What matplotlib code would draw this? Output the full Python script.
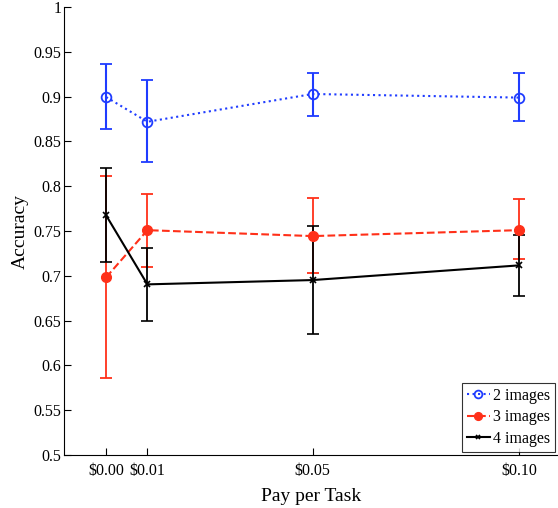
import numpy as np
import matplotlib
matplotlib.use("Agg")
import matplotlib.pyplot as plt

plt.rcParams['font.family'] = ['Liberation Serif', 'DejaVu Serif']

### Data
pay = [0.00, 0.01, 0.05, 0.10]
pay_labels = ['$0.00', '$0.01', '$0.05', '$0.10']

acc2 = [0.8996, 0.872, 0.903, 0.899]
acc2_hi = [0.936, 0.9185, 0.9267, 0.926]
acc2_lo = [0.864, 0.8267, 0.8783, 0.8728]

acc3 = [0.6983, 0.751, 0.7444, 0.751]
acc3_hi = [0.8117, 0.7917, 0.7865, 0.7857]
acc3_lo = [0.586, 0.710, 0.7031, 0.7188]

acc4 = [0.7675, 0.6905, 0.6953, 0.7117]
acc4_hi = [0.820, 0.7314, 0.756, 0.746]
acc4_lo = [0.7154, 0.650, 0.635, 0.6775]

blue = '#1f3cff'
red = '#ff3019'

def err(mid, hi, lo):
  mid = np.array(mid); hi = np.array(hi); lo = np.array(lo)
  return np.vstack([mid - lo, hi - mid])

fig = plt.figure(figsize=(5.58, 5.08), dpi=100)
ax = fig.add_axes([0.1147, 0.1043, 0.885, 0.8817])

e2 = ax.errorbar(pay, acc2, yerr=err(acc2, acc2_hi, acc2_lo), color=blue, ls=':', lw=1.5,
                 marker='o', ms=7, mfc='none', mec=blue, mew=1.3, capsize=4, elinewidth=1.5,
                 capthick=1.5)
e3 = ax.errorbar(pay, acc3, yerr=err(acc3, acc3_hi, acc3_lo), color=red, ls='--', lw=1.5,
                 marker='o', ms=7, mfc=red, mec=red, capsize=4, elinewidth=1.3,
                 capthick=1.3)
e4 = ax.errorbar(pay, acc4, yerr=err(acc4, acc4_hi, acc4_lo), color='black', ls='-', lw=1.5,
                 marker='x', ms=4, mew=1.2, capsize=4, elinewidth=1.3,
                 capthick=1.3)

ax.set_xlim(-0.0102, 0.1094)
ax.set_ylim(0.5, 1.0)
ax.set_xticks(pay)
ax.set_xticklabels(pay_labels)
ax.set_yticks(np.arange(0.5, 1.001, 0.05))
ax.set_yticklabels(['0.5', '0.55', '0.6', '0.65', '0.7', '0.75', '0.8', '0.85', '0.9', '0.95', '1'])
ax.tick_params(direction='in', length=5, width=0.8, labelsize=11.5)
ax.tick_params(axis='y', pad=2)
ax.tick_params(axis='x', pad=6)

ax.spines['top'].set_visible(False)
ax.spines['right'].set_visible(False)

ax.set_xlabel('Pay per Task', fontsize=14, labelpad=6)
ax.set_ylabel('Accuracy', fontsize=14, labelpad=3)

leg = ax.legend([e2[0], e3[0], e4[0]], ['2 images', '3 images', '4 images'],
                loc='lower right', fontsize=11.5, frameon=True, fancybox=False,
                edgecolor='black', borderpad=0.3, labelspacing=0.35, handlelength=1.4,
                handletextpad=0.2, borderaxespad=0.2, markerscale=0.8)
leg.get_frame().set_linewidth(0.8)

fig.savefig('out.png', dpi=100)
